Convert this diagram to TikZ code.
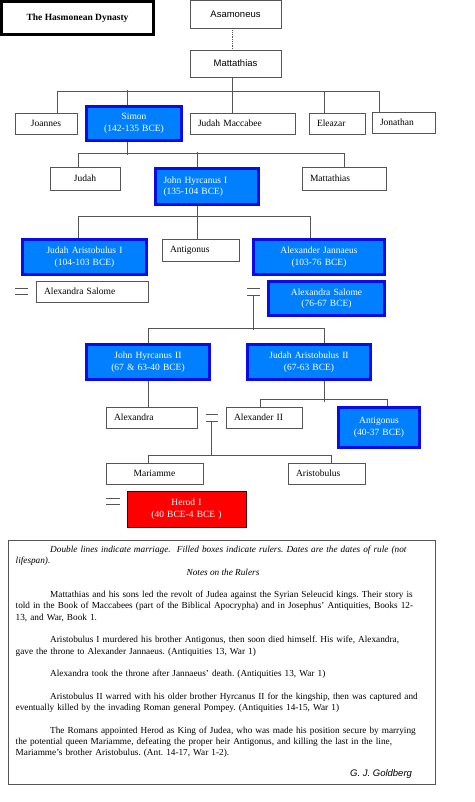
\documentclass[tikz,border=0pt]{standalone}
\usepackage{fontspec}
\setmainfont{Liberation Serif}
\setsansfont{Liberation Sans}
\frenchspacing

\definecolor{linegray}{RGB}{85,85,85}
\definecolor{rulerblue}{RGB}{0,128,255}
\definecolor{rulerrim}{RGB}{10,10,235}
\definecolor{herodred}{RGB}{255,0,0}
\definecolor{herodrim}{RGB}{70,0,0}

\tikzset{
  person/.style 2 args={draw=linegray, line width=0.8pt, fill=white,
    minimum width=#1, minimum height=#2, text width=#1pt-16pt,
    inner xsep=8pt, inner ysep=0pt, align=left,
    font=\fontsize{9.5}{11.5}\selectfont},
  ruler/.style 2 args={person={#1}{#2}, draw=rulerrim, line width=3pt,
    fill=rulerblue, text=white, align=center},
  link/.style={draw=linegray, line width=0.8pt},
  wed/.style={draw=linegray, line width=0.9pt, double=white, double distance=5.5pt},
  notes/.style={font=\fontsize{9.25}{11.3}\selectfont, inner sep=0pt,
    text width=418pt, align=left}
}

\begin{document}
\begin{tikzpicture}[x=1pt, y=-1pt]
        \useasboundingbox (0,0) rectangle (474,802);

        \node[draw=black, line width=3pt, minimum width=152, minimum height=33, inner sep=0pt,
          font=\bfseries\fontsize{9.5}{11}\selectfont] (title) at (77.5,18) {The Hasmonean Dynasty};

        \node[person={91}{28}, align=center, font=\sffamily\fontsize{9.5}{11.5}\selectfont] (asamoneus) at (235.5,14) {Asamoneus};
        \node[person={91}{27}, align=center, font=\sffamily\fontsize{9.5}{11.5}\selectfont] (matt1) at (235.5,63.5) {Mattathias};

        \node[person={62}{21}, align=center] (joannes) at (46,123.5) {Joannes};
        \node[ruler={95}{34}] (simon) at (134,123.5) {Simon\\(142-135 BCE)};
        \node[person={105}{21}] (judahmacc) at (242.5,123.5) {Judah Maccabee};
        \node[person={56}{21}] (eleazar) at (337,123.5) {Eleazar};
        \node[person={63}{21}] (jonathan) at (403.5,122.5) {Jonathan};

        \node[person={70}{23}, align=center] (judah) at (85,178.5) {Judah};
        \node[ruler={103}{36}, align=left] (hyrcanus1) at (207,186.5) {John Hyrcanus I\\(135-104 BCE)};
        \node[person={84}{23}] (matt2) at (344,178.5) {Mattathias};

        \node[ruler={124}{35}] (aristobulus1) at (84.5,257) {Judah Aristobulus I\\(104-103 BCE)};
        \node[person={77}{22}] (antigonus1) at (200.5,250) {Antigonus};
        \node[ruler={131}{35}] (jannaeus) at (319,257) {Alexander Jannaeus\\(103-76 BCE)};
        \node[person={112}{21}] (salome1) at (92,291.5) {Alexandra Salome};
        \node[ruler={116}{34}] (salome2) at (326.5,298.5) {Alexandra Salome\\(76-67 BCE)};

        \node[ruler={123}{35}] (hyrcanus2) at (148,362) {John Hyrcanus II\\(67 \& 63-40 BCE)};
        \node[ruler={123}{35}] (aristobulus2) at (309,362) {Judah Aristobulus II\\(67-63 BCE)};

        \node[person={91}{21}] (alexandra) at (151.5,417.5) {Alexandra};
        \node[person={76}{21}] (alexander2) at (264,417.5) {Alexander II};
        \node[ruler={81}{40}] (antigonus2) at (379,427.5) {Antigonus\\(40-37 BCE)};

        \node[person={97}{21}, align=center] (mariamme) at (154.5,473.5) {Mariamme};
        \node[person={77}{21}] (aristobulus3) at (326.5,473.5) {Aristobulus};
        \node[person={119}{36}, draw=herodrim, line width=1pt, fill=herodred, text=white, align=center] (herod) at (186.5,509) {Herod I\\(40 BCE-4 BCE )};

        \coordinate (wedA) at (21.5,291.5);
        \coordinate (wedB) at (253.5,292);
        \coordinate (wedC) at (211.5,418);
        \coordinate (wedD) at (113,501.5);

        \draw[link, densely dotted] ([xshift=-3pt]asamoneus.south) -- ([xshift=-3pt]matt1.north);

        \draw[link] ([xshift=-3pt]matt1.south) -- ++(0,15);
        \draw[link] ([xshift=11pt]joannes.north) -- ++(0,-21) -| ([xshift=-24.5pt]jonathan.north);
        \draw[link] ([xshift=-7pt]simon.north) -- ++(0,-14.5);
        \draw[link] ([xshift=-10.5pt]judahmacc.north) -- ++(0,-21);
        \draw[link] ([xshift=-13pt]eleazar.north) -- ++(0,-21);

        \draw[link] ([xshift=-7pt]simon.south) -- ++(0,13.5);
        \draw[link] ([xshift=-7pt]judah.north) -- ++(0,-13) -| (matt2.north);
        \draw[link] ([xshift=-10pt]hyrcanus1.north) -- ++(0,-14.5);

        \draw[link] ([xshift=-10pt]hyrcanus1.south) -- ++(0,13.5);
        \draw[link] ([xshift=-6.5pt]aristobulus1.north) -- ++(0,-21.5) -| ([xshift=-9pt]jannaeus.north);
        \draw[link] ([xshift=-3.5pt]antigonus1.north) -- ++(0,-21);

        \draw[wed] ([xshift=-6.5pt]wedA) -- ([xshift=6.5pt]wedA);
        \draw[wed] ([xshift=-6.5pt]wedB) -- ([xshift=6.5pt]wedB);
        \draw[link] (wedB) ++(0,3.2) -- ++(0,34.8);
        \draw[link] (hyrcanus2.north) -- ++(0,-14.5) -| ([xshift=15pt]aristobulus2.north);

        \draw[link] (hyrcanus2.south) -- (hyrcanus2.south |- alexandra.north);
        \draw[link] ([xshift=15pt]aristobulus2.south) -- ++(0,20.5);
        \draw[link] ([xshift=-4pt]alexander2.north) -- ++(0,-7) -| ([xshift=8pt]antigonus2.north);

        \draw[wed] ([xshift=-6pt]wedC) -- ([xshift=6pt]wedC);
        \draw[link] (wedC) ++(0,3.2) -- ++(0,34.8);
        \draw[link] ([xshift=-6.5pt]mariamme.north) -- ++(0,-7) -| ([xshift=4.5pt]aristobulus3.north);
        \draw[wed] ([xshift=-7pt]wedD) -- ([xshift=7pt]wedD);

        \node[draw=linegray, line width=1pt, minimum width=427, minimum height=244, inner sep=0pt] (notebox) at (221.5,662) {};
        \node[notes, anchor=base west] (legend) at (15.5,552.5) {\itshape\hspace*{34.5pt}Double lines indicate marriage.\ \ Filled boxes indicate rulers. Dates are the dates of rule (not\\lifespan).};
        \node[anchor=base, font=\itshape\fontsize{9.25}{11.3}\selectfont] (notehead) at (223,575.5) {Notes on the Rulers};
        \node[notes, anchor=base west] (rulernotes) at (15.5,597.5) {\hspace*{34.5pt}Mattathias and his sons led the revolt of Judea against the Syrian Seleucid kings. Their story is\\
told in the Book of Maccabees (part of the Biblical Apocrypha) and in Josephus' Antiquities, Books 12-\\
13, and War, Book 1.\\[11.3pt]
\hspace*{34.5pt}Aristobulus I murdered his brother Antigonus, then soon died himself. His wife, Alexandra,\\
gave the throne to Alexander Jannaeus. (Antiquities 13, War 1)\\[11.3pt]
\hspace*{34.5pt}Alexandra took the throne after Jannaeus' death. (Antiquities 13, War 1)\\[11.3pt]
\hspace*{34.5pt}Aristobulus II warred with his older brother Hyrcanus II for the kingship, then was captured and\\
eventually killed by the invading Roman general Pompey. (Antiquities 14-15, War 1)\\[11.3pt]
\hspace*{34.5pt}The Romans appointed Herod as King of Judea, who was made his position secure by marrying\\
the potential queen Mariamme, defeating the proper heir Antigonus, and killing the last in the line,\\
Mariamme's brother Aristobulus. (Ant. 14-17, War 1-2).};
        \node[anchor=base east, font=\sffamily\itshape\fontsize{9.5}{11}\selectfont] (signature) at (415.5,776.5) {G. J. Goldberg};
    \end{tikzpicture}
\end{document}
